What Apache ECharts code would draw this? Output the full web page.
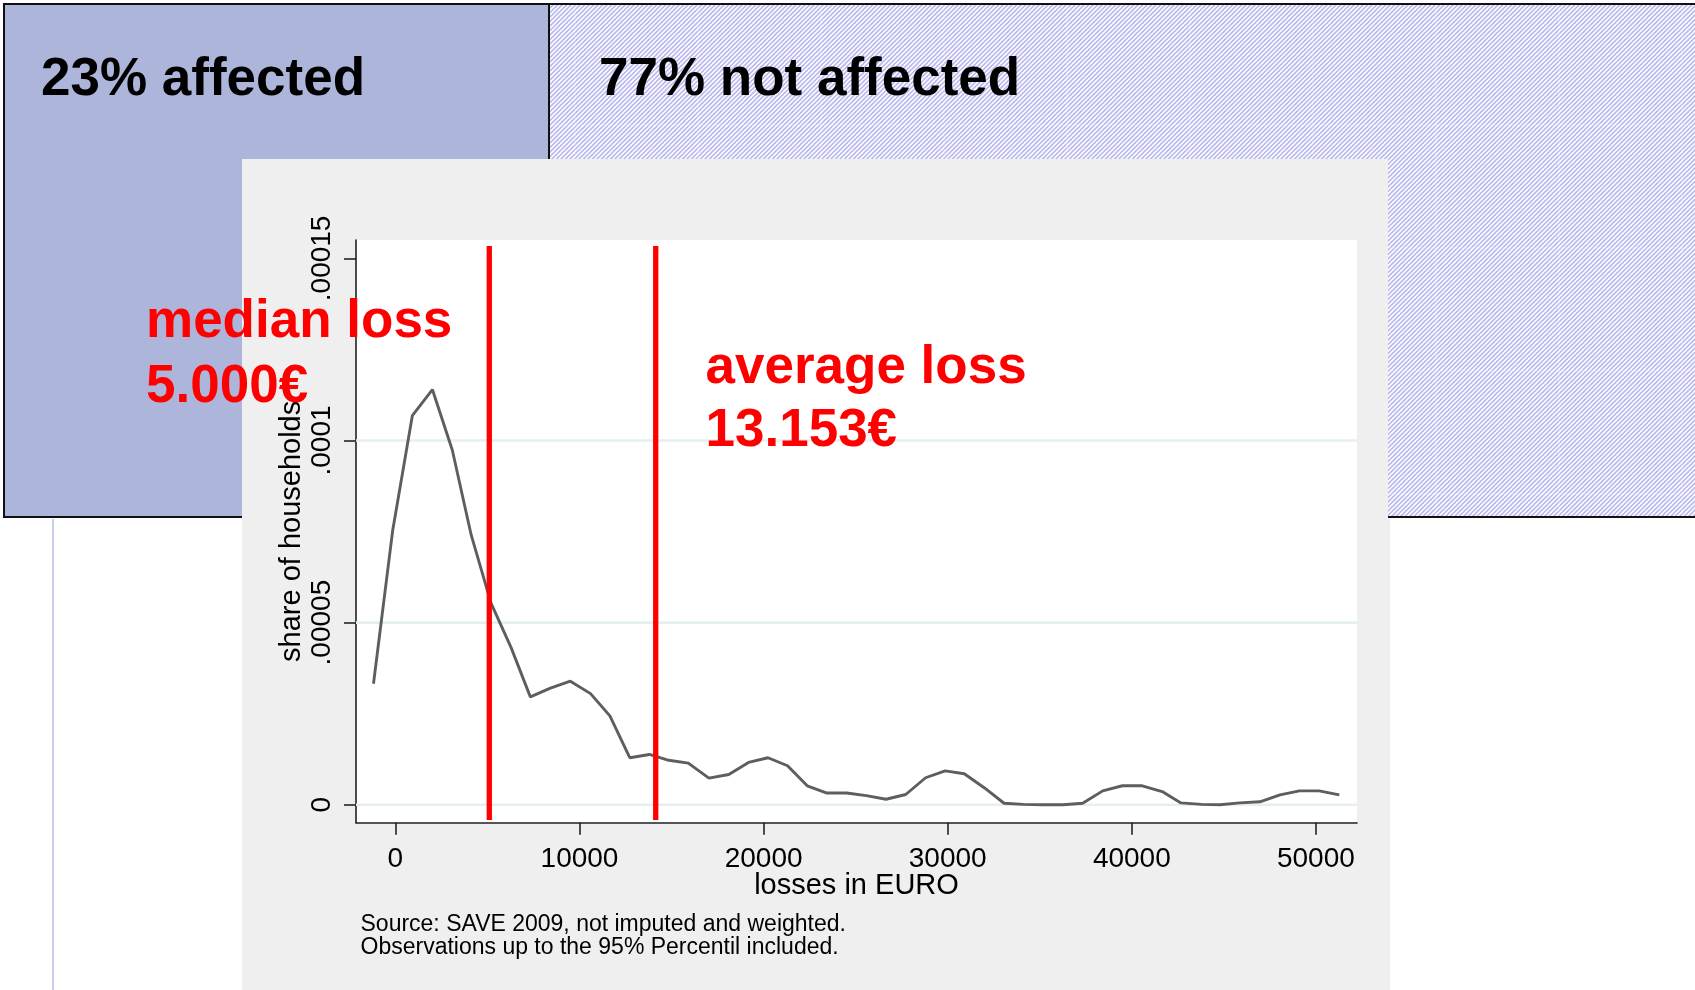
<!DOCTYPE html>
<html><head><meta charset="utf-8">
<script src="https://cdn.jsdelivr.net/npm/echarts@6/dist/echarts.min.js"></script>
<style>html,body{margin:0;padding:0;background:#fff}#c{width:1695px;height:990px}</style>
</head><body><div id="c"></div>
<script>
// ---- data ----
const lossEuro = [-1190, -150, 920, 2010, 3090, 4120, 5200, 6280, 7330, 8420, 9500, 10600, 11650, 12730, 13800, 14850, 15910, 17030, 18110, 19180, 20240, 21300, 22370, 23440, 24510, 25580, 26650, 27720, 28800, 29860, 30900, 32000, 33060, 34110, 35190, 36270, 37330, 38420, 39490, 40570, 41650, 42670, 43790, 44790, 45870, 46960, 48050, 49100, 50180, 51270];
const shareHouseholds = [3.32e-5, 7.52e-5, 10.68e-5, 11.40e-5, 9.74e-5, 7.40e-5, 5.53e-5, 4.32e-5, 2.96e-5, 3.20e-5, 3.39e-5, 3.05e-5, 2.44e-5, 1.29e-5, 1.38e-5, 1.22e-5, 1.14e-5, 0.73e-5, 0.83e-5, 1.16e-5, 1.29e-5, 1.07e-5, 0.52e-5, 0.32e-5, 0.32e-5, 0.25e-5, 0.15e-5, 0.28e-5, 0.74e-5, 0.93e-5, 0.85e-5, 0.46e-5, 0.04e-5, 0.01e-5, 0, 0, 0.04e-5, 0.38e-5, 0.52e-5, 0.52e-5, 0.36e-5, 0.05e-5, 0.01e-5, 0, 0.05e-5, 0.08e-5, 0.27e-5, 0.38e-5, 0.38e-5, 0.27e-5];
const xTickValues = [0, 10000, 20000, 30000, 40000, 50000];
const xTickLabels = ['0', '10000', '20000', '30000', '40000', '50000'];
const yTickValues = [0, 0.00005, 0.0001, 0.00015];
const yTickLabels = ['0', '.00005', '.0001', '.00015'];
const gridLineValues = [0, 0.00005, 0.0001];
const medianLineX = 5100;
const averageLineX = 14140;
const refLineSpan = [-0.0000042, 0.0001534];
const xRange = [-2140, 52232];
const yRange = [-0.00000494, 0.00015505];
const headlineTexts = ['23% affected', '77% not affected'];
const medianTexts = ['median loss', '5.000€'];
const averageTexts = ['average loss', '13.153€'];
const xAxisTitle = 'losses in EURO';
const yAxisTitle = 'share of households';
const sourceNote = ['Source: SAVE 2009, not imputed and weighted.', 'Observations up to the 95% Percentil included.'];

const FONT = '"Liberation Sans", Arial, Helvetica, sans-serif';

function nearestLabel(values, labels, v) {
  let best = 0;
  values.forEach((t, i) => { if (Math.abs(t - v) < Math.abs(values[best] - v)) best = i; });
  return labels[best];
}

function hatchCanvas() {
  const c = document.createElement('canvas');
  c.width = 9; c.height = 9;
  const g = c.getContext('2d');
  g.fillStyle = '#ffffff'; g.fillRect(0, 0, 9, 9);
  g.strokeStyle = '#b9b9ee'; g.lineWidth = 1.6;
  [-9, -4.5, 0, 4.5, 9].forEach(off => {
    g.beginPath(); g.moveTo(off - 1, 10); g.lineTo(off + 10, -1); g.stroke();
  });
  return c;
}

const graphics = [
  { type: 'rect', z: -30, shape: { x: 4, y: 4, width: 545, height: 513 }, style: { fill: '#adb5db' } },
  { type: 'rect', z: -30, shape: { x: 549, y: 4, width: 1160, height: 513 }, style: { fill: { image: hatchCanvas(), repeat: 'repeat' } } }
];
[575, 698, 821, 944, 1067, 1190, 1313, 1436, 1559, 1682].forEach(x => graphics.push(
  { type: 'line', z: -29, shape: { x1: x, y1: 5, x2: x, y2: 516 }, style: { stroke: 'rgba(255,255,255,0.3)', lineWidth: 1 } }));
[125, 248, 371, 494].forEach(y => graphics.push(
  { type: 'line', z: -29, shape: { x1: 550, y1: y, x2: 1695, y2: y }, style: { stroke: 'rgba(255,255,255,0.3)', lineWidth: 1 } }));
graphics.push(
  { type: 'rect', z: -28, shape: { x: 4, y: 4, width: 545, height: 513 }, style: { fill: null, stroke: '#111', lineWidth: 2 } },
  { type: 'rect', z: -28, shape: { x: 549, y: 4, width: 1170, height: 513 }, style: { fill: null, stroke: '#111', lineWidth: 2 } },
  { type: 'line', z: -28, shape: { x1: 53, y1: 519, x2: 53, y2: 990 }, style: { stroke: '#c8cee8', lineWidth: 2 } },
  { type: 'rect', z: -20, shape: { x: 242, y: 159, width: 1146, height: 831 }, style: { fill: '#efefef' } },
  { type: 'line', z: -20, shape: { x1: 1389, y1: 519, x2: 1389, y2: 990 }, style: { stroke: '#e8eff3', lineWidth: 2 } },
  { type: 'text', z: 50, x: 41, y: 80.8, style: { text: headlineTexts[0], fontSize: 53, fontWeight: 'bold', fontFamily: FONT, fill: '#000', align: 'left', verticalAlign: 'middle' } },
  { type: 'text', z: 50, x: 599, y: 80.4, style: { text: headlineTexts[1], fontSize: 53, fontWeight: 'bold', fontFamily: FONT, fill: '#000', align: 'left', verticalAlign: 'middle' } },
  { type: 'text', z: 50, x: 360.5, y: 925, style: { text: sourceNote[0], fontSize: 23, fontFamily: FONT, fill: '#000', align: 'left', verticalAlign: 'middle' } },
  { type: 'text', z: 50, x: 360.5, y: 948, style: { text: sourceNote[1], fontSize: 23, fontFamily: FONT, fill: '#000', align: 'left', verticalAlign: 'middle' } },
  { type: 'text', z: 60, x: 146, y: 322.8, style: { text: medianTexts[0], fontSize: 53, fontWeight: 'bold', fontFamily: FONT, fill: '#ff0000', align: 'left', verticalAlign: 'middle' } },
  { type: 'text', z: 60, x: 146, y: 387.1, style: { text: medianTexts[1], fontSize: 53, fontWeight: 'bold', fontFamily: FONT, fill: '#ff0000', align: 'left', verticalAlign: 'middle' } },
  { type: 'text', z: 60, x: 705.5, y: 368.5, style: { text: averageTexts[0], fontSize: 53, fontWeight: 'bold', fontFamily: FONT, fill: '#ff0000', align: 'left', verticalAlign: 'middle' } },
  { type: 'text', z: 60, x: 705.5, y: 431.8, style: { text: averageTexts[1], fontSize: 53, fontWeight: 'bold', fontFamily: FONT, fill: '#ff0000', align: 'left', verticalAlign: 'middle' } }
);

const axisLineStyle = { color: '#222', width: 1.6 };
const series = [];
gridLineValues.forEach(v => series.push({
  type: 'line', silent: true, symbol: 'none', z: 1,
  data: [[xRange[0], v], [xRange[1], v]],
  lineStyle: { color: '#e6eff0', width: 2.6 }
}));
series.push({
  type: 'line', symbol: 'none', z: 3, smooth: false,
  data: lossEuro.map((x, i) => [x, shareHouseholds[i]]),
  lineStyle: { color: '#5e5e5e', width: 2.9 }
});
[medianLineX, averageLineX].forEach(x => series.push({
  type: 'line', symbol: 'none', z: 4,
  data: [[x, refLineSpan[0]], [x, refLineSpan[1]]],
  lineStyle: { color: '#ff0000', width: 5.3, cap: 'butt' }
}));

const chart = echarts.init(document.getElementById('c'), null, { renderer: 'canvas' });
chart.setOption({
  animation: false,
  backgroundColor: '#ffffff',
  graphic: graphics,
  grid: { left: 356, top: 240, width: 1001, height: 582.7, show: true, backgroundColor: '#ffffff', borderWidth: 0, containLabel: false },
  xAxis: {
    type: 'value', min: xRange[0], max: xRange[1],
    splitLine: { show: false },
    axisLine: { show: true, onZero: false, lineStyle: axisLineStyle },
    axisTick: { show: true, length: 12, customValues: xTickValues, lineStyle: axisLineStyle },
    axisLabel: {
      customValues: xTickValues, fontSize: 28, color: '#000', fontFamily: FONT, margin: 23,
      formatter: v => nearestLabel(xTickValues, xTickLabels, v)
    },
    name: xAxisTitle, nameLocation: 'middle', nameGap: 49, nameMoveOverlap: false,
    nameTextStyle: { fontSize: 29, color: '#000', fontFamily: FONT }
  },
  yAxis: {
    type: 'value', min: yRange[0], max: yRange[1],
    splitLine: { show: false },
    axisLine: { show: true, onZero: false, lineStyle: axisLineStyle },
    axisTick: { show: true, length: 12, customValues: yTickValues, lineStyle: axisLineStyle },
    axisLabel: {
      customValues: yTickValues, fontSize: 28, color: '#000', fontFamily: FONT, margin: 20, rotate: 90,
      formatter: v => nearestLabel(yTickValues, yTickLabels, v)
    },
    name: yAxisTitle, nameLocation: 'middle', nameGap: 50, nameMoveOverlap: false,
    nameTextStyle: { fontSize: 29, color: '#000', fontFamily: FONT }
  },
  series: series
});
</script></body></html>
